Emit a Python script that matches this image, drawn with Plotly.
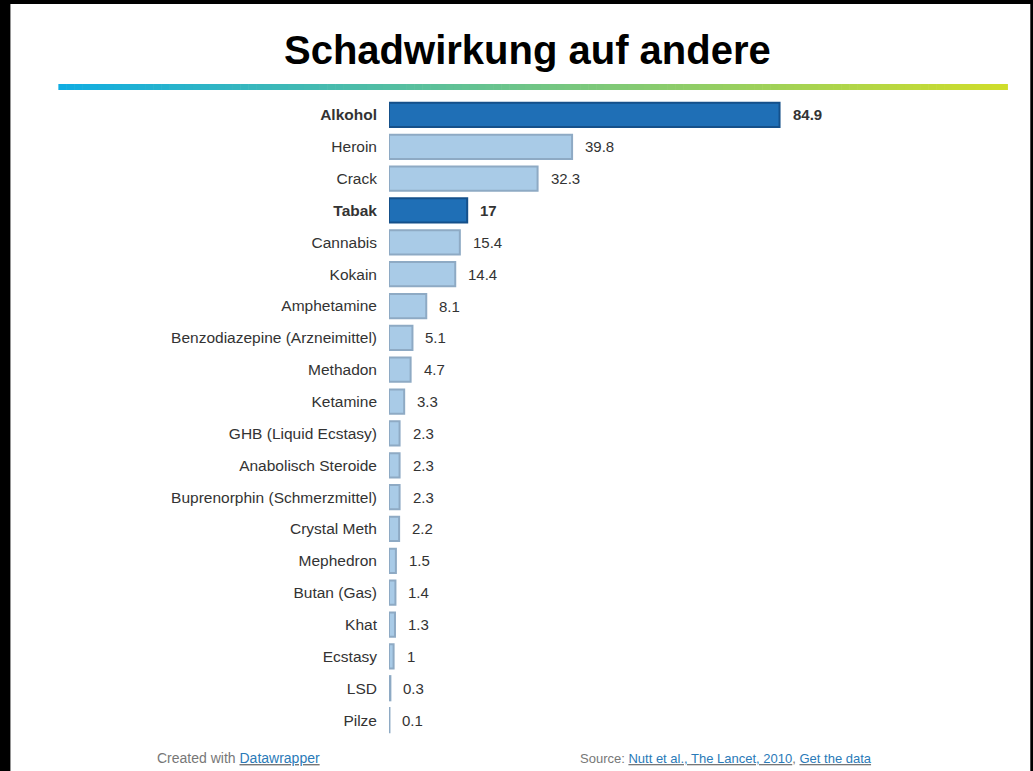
import plotly.graph_objects as go

categories = ["Alkohol", "Heroin", "Crack", "Tabak", "Cannabis", "Kokain", "Amphetamine",
              "Benzodiazepine (Arzneimittel)", "Methadon", "Ketamine", "GHB (Liquid Ecstasy)",
              "Anabolisch Steroide", "Buprenorphin (Schmerzmittel)", "Crystal Meth", "Mephedron",
              "Butan (Gas)", "Khat", "Ecstasy", "LSD", "Pilze"]
values = [84.9, 39.8, 32.3, 17, 15.4, 14.4, 8.1, 5.1, 4.7, 3.3, 2.3, 2.3, 2.3, 2.2, 1.5, 1.4, 1.3, 1, 0.3, 0.1]
value_labels = ["84.9", "39.8", "32.3", "17", "15.4", "14.4", "8.1", "5.1", "4.7", "3.3", "2.3",
                "2.3", "2.3", "2.2", "1.5", "1.4", "1.3", "1", "0.3", "0.1"]
highlighted = ["Alkohol", "Tabak"]

W, H = 1033, 771
L, R, T, B = 389, 183.5, 99, 35

fill = ["#1f6fb6" if c in highlighted else "#a9cbe7" for c in categories]
line = ["#15508a" if c in highlighted else "#8eaac4" for c in categories]

fig = go.Figure()
fig.add_trace(go.Bar(
    x=values, y=categories, orientation="h",
    marker=dict(color=fill, line=dict(color=line, width=2)),
    width=0.76, hoverinfo="skip",
))

ticktext = [f"<b>{c}</b>" if c in highlighted else c for c in categories]

for c, v, t in zip(categories, values, value_labels):
    fig.add_annotation(x=v, y=c, xref="x", yref="y", text=(f"<b>{t}</b>" if c in highlighted else t),
                       showarrow=False, xanchor="left", xshift=11,
                       font=dict(family="Liberation Sans, Arial", size=15, color="#333333"))

shapes = []
# gradient rule under title
x0, x1 = 58, 1008
n = 120
c0 = (16, 173, 226)
c1 = (207, 221, 42)
for i in range(n):
    f = i / (n - 1)
    col = tuple(round(c0[k] + (c1[k] - c0[k]) * f) for k in range(3))
    xa = x0 + (x1 - x0) * i / n
    xb = x0 + (x1 - x0) * (i + 1) / n + 0.6
    shapes.append(dict(type="rect", xref="paper", yref="paper",
                       x0=(xa - L) / (W - L - R), x1=(xb - L) / (W - L - R),
                       y0=(H - B - 90) / (H - T - B), y1=(H - B - 84) / (H - T - B),
                       fillcolor="rgb(%d,%d,%d)" % col, line=dict(width=0), layer="below"))
# black frame
def px(xv):
    return (xv - L) / (W - L - R)
def py(yv):
    return (H - B - yv) / (H - T - B)
shapes.append(dict(type="rect", xref="paper", yref="paper", x0=px(-5), x1=px(10), y0=py(800), y1=py(-5),
                   fillcolor="black", line=dict(width=0)))
shapes.append(dict(type="rect", xref="paper", yref="paper", x0=px(1031), x1=px(1040), y0=py(800), y1=py(-5),
                   fillcolor="black", line=dict(width=0)))
shapes.append(dict(type="rect", xref="paper", yref="paper", x0=px(-5), x1=px(1040), y0=py(4), y1=py(-5),
                   fillcolor="black", line=dict(width=0)))

fig.add_annotation(xref="paper", yref="paper", x=px(528), y=py(50), text="<b>Schadwirkung auf andere</b>",
                   showarrow=False, xanchor="center", yanchor="middle",
                   font=dict(family="Liberation Sans, Arial", size=40, color="black"))
fig.add_annotation(xref="paper", yref="paper", x=px(155), y=py(758),
                   text='Created with <u><span style="color:#2a7ab8">Datawrapper</span></u>',
                   showarrow=False, xanchor="left", yanchor="middle",
                   font=dict(family="Liberation Sans, Arial", size=14, color="#777777"))
fig.add_annotation(xref="paper", yref="paper", x=px(578), y=py(758),
                   text='Source: <u><span style="color:#2a7ab8">Nutt et al., The Lancet, 2010</span></u>, '
                        '<u><span style="color:#2a7ab8">Get the data</span></u>',
                   showarrow=False, xanchor="left", yanchor="middle",
                   font=dict(family="Liberation Sans, Arial", size=13, color="#777777"))

fig.update_layout(
    width=W, height=H, autosize=False,
    margin=dict(l=L, r=R, t=T, b=B, pad=0),
    paper_bgcolor="white", plot_bgcolor="white",
    showlegend=False, shapes=shapes,
    xaxis=dict(range=[0, 100], visible=False, fixedrange=True),
    yaxis=dict(autorange="reversed", tickmode="array", tickvals=categories, ticktext=ticktext,
               showgrid=False, zeroline=False, showline=False, ticks="",
               ticklabelstandoff=11,
               tickfont=dict(family="Liberation Sans, Arial", size=15.5, color="#333333")),
)

fig.write_html("out.html")
